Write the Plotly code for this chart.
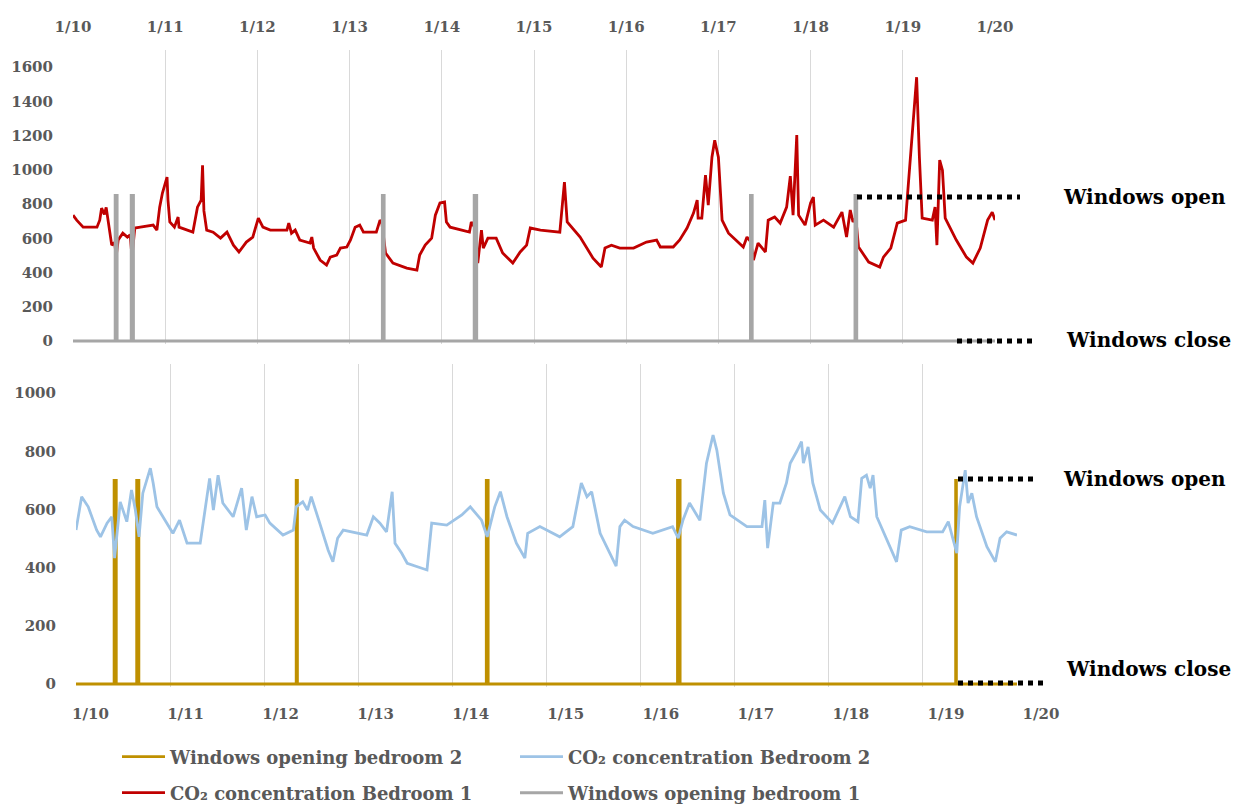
import plotly.graph_objects as go

W, H = 1241, 806

# ---------------- data ----------------
date_labels = ["1/10", "1/11", "1/12", "1/13", "1/14", "1/15", "1/16", "1/17", "1/18", "1/19", "1/20"]
day_ticks = list(range(11))

# CO2 Bedroom 1 (days since 1/10, ppm)
red_t = [0.00, 0.04, 0.11, 0.26, 0.29, 0.31, 0.34, 0.36, 0.38, 0.40, 0.42, 0.45, 0.47, 0.49, 0.54, 0.59, 0.62, 0.64,
         0.67, 0.73, 0.87, 0.91, 0.94, 0.97, 1.02, 1.03, 1.05, 1.10, 1.14, 1.15, 1.23, 1.30, 1.35, 1.39, 1.405, 1.42,
         1.45, 1.52, 1.60, 1.67, 1.74, 1.80, 1.88, 1.95, 2.01, 2.06, 2.14, 2.32, 2.34, 2.37, 2.41, 2.46, 2.57, 2.59,
         2.61, 2.68, 2.75, 2.79, 2.86, 2.90, 2.97, 3.01, 3.06, 3.11, 3.15, 3.29, 3.33, 3.35, 3.39, 3.47, 3.62, 3.73,
         3.76, 3.82, 3.89, 3.93, 3.98, 4.03, 4.05, 4.09, 4.30, 4.32, 4.36, 4.39, 4.43, 4.45, 4.50, 4.59, 4.66, 4.77,
         4.85, 4.92, 4.96, 5.07, 5.28, 5.33, 5.36, 5.41, 5.50, 5.64, 5.73, 5.77, 5.84, 5.93, 6.08, 6.22, 6.33, 6.37,
         6.51, 6.58, 6.66, 6.73, 6.77, 6.78, 6.82, 6.86, 6.89, 6.93, 6.96, 7.00, 7.04, 7.11, 7.27, 7.31, 7.35, 7.38,
         7.43, 7.51, 7.54, 7.61, 7.67, 7.74, 7.78, 7.81, 7.85, 7.87, 7.94, 8.00, 8.03, 8.05, 8.14, 8.25, 8.34, 8.39,
         8.43, 8.46, 8.49, 8.52, 8.63, 8.75, 8.79, 8.87, 8.94, 9.03, 9.08, 9.15, 9.18, 9.21, 9.32, 9.35, 9.37, 9.40,
         9.43, 9.46, 9.58, 9.69, 9.76, 9.84, 9.92, 9.97, 10.00]
red_v = [735, 706, 665, 665, 706, 776, 740, 780, 706, 630, 560, 575, 500, 590, 630, 607, 620, 490,
         660, 665, 677, 648, 782, 864, 957, 823, 695, 665, 724, 665, 648, 636, 782, 823, 1027, 760,
         648, 636, 601, 636, 560, 520, 578, 607, 718, 665, 648, 648, 689, 630, 648, 590, 572, 607,
         543, 473, 444, 490, 502, 543, 549, 590, 665, 677, 636, 636, 706, 690, 514, 455, 426, 414,
         502, 560, 601, 735, 806, 812, 695, 665, 636, 695, 660, 455, 648, 543, 601, 601, 514, 455,
         520, 560, 660, 648, 636, 928, 695, 665, 607, 484, 432, 543, 560, 543, 543, 578, 590, 549,
         549, 590, 660, 747, 823, 718, 718, 969, 794, 1074, 1173, 1074, 706, 630, 549, 607, 580, 473,
         572, 520, 706, 724, 689, 782, 963, 735, 1203, 735, 677, 806, 841, 677, 706, 665, 753, 607,
         765, 695, 720, 549, 461, 432, 490, 543, 689, 706, 1074, 1541, 1074, 718, 706, 782, 560, 1057,
         998, 718, 590, 490, 455, 543, 706, 753, 706]

# CO2 Bedroom 2
blue_t = [0.00, 0.06, 0.13, 0.22, 0.26, 0.33, 0.38, 0.41, 0.47, 0.54, 0.59, 0.63, 0.67, 0.71, 0.79, 0.82, 0.86,
          0.96, 1.03, 1.10, 1.18, 1.32, 1.35, 1.42, 1.46, 1.51, 1.56, 1.67, 1.76, 1.81, 1.87, 1.92, 2.01, 2.06,
          2.20, 2.31, 2.34, 2.41, 2.46, 2.50, 2.59, 2.68, 2.73, 2.78, 2.84, 3.09, 3.16, 3.23, 3.30, 3.36, 3.39,
          3.46, 3.52, 3.66, 3.73, 3.78, 3.94, 4.10, 4.19, 4.31, 4.37, 4.45, 4.51, 4.58, 4.68, 4.77, 4.80, 4.93,
          5.14, 5.28, 5.37, 5.43, 5.48, 5.57, 5.67, 5.74, 5.78, 5.83, 5.92, 6.13, 6.34, 6.40, 6.45, 6.52, 6.63,
          6.70, 6.77, 6.81, 6.88, 6.95, 7.13, 7.29, 7.32, 7.35, 7.41, 7.48, 7.55, 7.59, 7.66, 7.71, 7.73, 7.78,
          7.83, 7.91, 8.04, 8.14, 8.17, 8.23, 8.31, 8.35, 8.40, 8.44, 8.47, 8.51, 8.62, 8.72, 8.77, 8.86, 9.04,
          9.21, 9.27, 9.36, 9.39, 9.45, 9.48, 9.52, 9.57, 9.68, 9.77, 9.82, 9.89, 10.00]
blue_v = [529, 644, 609, 529, 506, 553, 575, 433, 626, 558, 667, 600, 506, 656, 742, 691, 609,
          553, 518, 563, 484, 484, 553, 707, 598, 718, 622, 575, 673, 529, 644, 575, 581, 553,
          512, 529, 609, 626, 598, 644, 553, 460, 420, 501, 529, 512, 575, 553, 523, 661, 484,
          450, 415, 398, 392, 553, 546, 581, 609, 563, 506, 609, 661, 575, 484, 433, 518, 541,
          506, 541, 691, 644, 661, 518, 450, 405, 541, 563, 541, 518, 541, 501, 563, 622, 563,
          759, 856, 804, 656, 581, 541, 541, 632, 467, 622, 622, 691, 759, 800, 833, 759, 815,
          691, 598, 553, 626, 644, 575, 558, 707, 718, 673, 718, 575, 495, 420, 529, 541, 523,
          523, 558, 450, 609, 735, 622, 656, 575, 472, 420, 501, 523, 512]

# window opening periods (start day, end day)
win1_start = [0.458, 0.632, 3.356, 4.352, 7.348, 8.482]
win1_end = [0.478, 0.655, 3.374, 4.378, 7.366, 8.500]
win1_level = 850
win2_start = [0.405, 0.645, 2.340, 4.360, 6.392, 9.348]
win2_end = [0.428, 0.668, 2.353, 4.380, 6.420, 9.356]
win2_level = 700


def steps(starts, ends, level, t0=0.0, t1=10.0):
    xs, ys = [t0], [0]
    for s, e in zip(starts, ends):
        xs += [s, s, e, e]
        ys += [0, level, level, 0]
    xs.append(t1)
    ys.append(0)
    return xs, ys


w1x, w1y = steps(win1_start, win1_end, win1_level)
w2x, w2y = steps(win2_start, win2_end, win2_level)

# ---------------- colours / fonts ----------------
RED = "#C00000"
GRAY = "#A6A6A6"
GOLD = "#BF9000"
BLUE = "#9DC3E6"
GRID = "#D9D9D9"
TICK_FONT = dict(family="DejaVu Serif", size=15, color="#595959", weight="bold")
LEG_FONT = dict(family="DejaVu Serif", size=18, color="#595959", weight="bold")
NOTE_FONT = dict(family="DejaVu Serif", size=20, color="#000000", weight="bold")


def px(x):
    return x / W


def py(y):
    return (H - y) / H


# pixel geometry of the two panels
TOP_Y0, TOP_Y1700 = 341, 50          # y pixel of 0 and 1700 (top panel)
BOT_Y0, BOT_Y1100 = 684, 364         # y pixel of 0 and 1100 (bottom panel)
TOP_PAD, BOT_PAD = 15, 10            # small negative range so the 0-level lines are not clipped
top_scale = (TOP_Y0 - TOP_Y1700) / 1700.0
bot_scale = (BOT_Y0 - BOT_Y1100) / 1100.0

fig = go.Figure()
fig.add_trace(go.Scatter(x=red_t, y=red_v, mode="lines", line=dict(color=RED, width=2.8),
                         name="CO₂ concentration Bedroom 1", xaxis="x", yaxis="y",
                         legend="legend2", legendrank=1))
fig.add_trace(go.Scatter(x=w1x, y=w1y, mode="lines", line=dict(color=GRAY, width=3),
                         name="Windows opening bedroom 1", xaxis="x", yaxis="y",
                         legend="legend2", legendrank=2))
fig.add_trace(go.Scatter(x=w2x, y=w2y, mode="lines", line=dict(color=GOLD, width=2.8),
                         name="Windows opening bedroom 2", xaxis="x2", yaxis="y2",
                         legend="legend", legendrank=1))
fig.add_trace(go.Scatter(x=blue_t, y=blue_v, mode="lines", line=dict(color=BLUE, width=2.8),
                         name="CO₂ concentration Bedroom 2", xaxis="x2", yaxis="y2",
                         legend="legend", legendrank=2))
# dummy trace for the bottom date-label axis
fig.add_trace(go.Scatter(x=[None], y=[None], xaxis="x3", yaxis="y2", showlegend=False, hoverinfo="skip"))

fig.update_layout(
    width=W, height=H,
    margin=dict(l=0, r=0, t=0, b=0, autoexpand=False),
    paper_bgcolor="white", plot_bgcolor="rgba(0,0,0,0)",
    xaxis=dict(domain=[px(73), px(995)], range=[0, 10], anchor="y", side="top", automargin=False,
               tickvals=day_ticks, ticktext=date_labels, tickfont=TICK_FONT,
               showgrid=True, gridcolor=GRID, gridwidth=1, zeroline=False, showline=False,
               ticks="", ticklabelstandoff=14),
    yaxis=dict(domain=[py(TOP_Y0 + TOP_PAD * top_scale), py(TOP_Y1700)], range=[-TOP_PAD, 1700],
               anchor="x", automargin=False,
               tickvals=[0, 200, 400, 600, 800, 1000, 1200, 1400, 1600], tickfont=TICK_FONT,
               showgrid=False, zeroline=True, zerolinecolor="#BFBFBF", zerolinewidth=1.5,
               showline=False, ticks="", ticklabelstandoff=19),
    xaxis2=dict(domain=[px(76), px(1017)], range=[0, 10], anchor="y2", automargin=False,
                tickvals=day_ticks, showticklabels=False,
                showgrid=True, gridcolor=GRID, gridwidth=1, zeroline=False, showline=False, ticks=""),
    yaxis2=dict(domain=[py(BOT_Y0 + BOT_PAD * bot_scale), py(BOT_Y1100)], range=[-BOT_PAD, 1100],
                anchor="x2", automargin=False,
                tickvals=[0, 200, 400, 600, 800, 1000], tickfont=TICK_FONT,
                showgrid=False, zeroline=False, showline=False, ticks="", ticklabelstandoff=19),
    xaxis3=dict(domain=[px(90.5), px(1041)], range=[0, 10], anchor="y2", automargin=False,
                tickvals=day_ticks, ticktext=date_labels, tickfont=TICK_FONT,
                showgrid=False, zeroline=False, showline=False, ticks="", ticklabelstandoff=16),
    legend=dict(orientation="h", x=px(117), xanchor="left", y=py(757), yanchor="middle",
                font=LEG_FONT, entrywidth=340, itemwidth=43, traceorder="normal",
                bgcolor="rgba(0,0,0,0)"),
    legend2=dict(orientation="h", x=px(117), xanchor="left", y=py(793), yanchor="middle",
                 font=LEG_FONT, entrywidth=340, itemwidth=43, traceorder="normal",
                 bgcolor="rgba(0,0,0,0)"),
    showlegend=True,
)

# dotted "Windows open / close" guides
dots = dict(color="black", width=5, dash="dot")
guides = [
    (857, 1020, 197),
    (957, 1035, 341),
    (958, 1035, 479),
    (958, 1047, 683),
]
for x0, x1, y in guides:
    fig.add_shape(type="line", xref="paper", yref="paper", x0=px(x0), x1=px(x1), y0=py(y), y1=py(y),
                  line=dots, layer="above")

notes = [
    ("Windows open", 1061, 197),
    ("Windows close", 1064, 340),
    ("Windows open", 1061, 479),
    ("Windows close", 1064, 669),
]
for txt, x, y in notes:
    fig.add_annotation(text=txt, xref="paper", yref="paper", x=px(x), y=py(y), xanchor="left",
                       yanchor="middle", showarrow=False, font=NOTE_FONT)

fig.write_html("out.html", config={"displayModeBar": False},
               post_script="document.body.style.margin='0px';document.body.style.overflow='hidden';")
